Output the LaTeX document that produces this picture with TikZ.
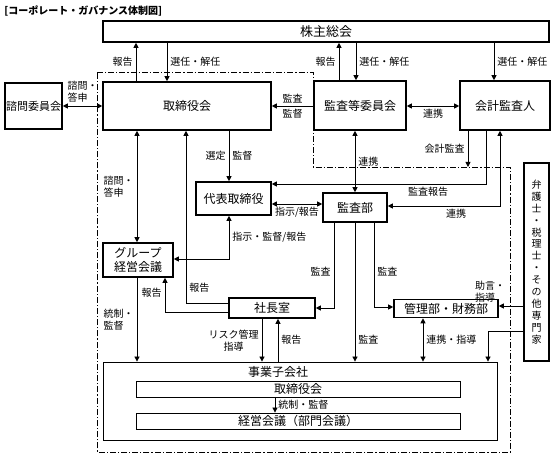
\documentclass[tikz,border=0pt]{standalone}
\usepackage{fontspec}
\setmainfont{Noto Sans CJK JP}
\usetikzlibrary{arrows.meta}

\begin{document}
\begin{tikzpicture}[
    x=1pt, y=-1pt,
    line width=0.8pt,
    >={Triangle[length=5pt, width=5pt]},
    every node/.style={font=\fontsize{12}{14}\selectfont, align=center, inner sep=0pt},
    box/.style={draw, line width=1.6pt},
    subbox/.style={draw, line width=0.8pt},
    lbl/.style={font=\fontsize{10}{12}\selectfont, inner sep=3pt},
    arrow/.style={->},
    both/.style={<->},
    frame/.style={line width=0.7pt, dash pattern=on 6pt off 2pt on 1.2pt off 2pt}
]
\useasboundingbox (0,0) rectangle (555,457);
\node[anchor=west, font=\bfseries\fontsize{10}{12}\selectfont] (title) at (4,11) {[コーポレート・ガバナンス体制図]};

% frame of the audit committee side
\draw[frame] (97,72) -- (313,72) -- (313,167) -- (510,167) -- (510,452) -- (97,452) -- cycle;

\node[box, minimum width=446pt, minimum height=21pt, font=\fontsize{13}{15}\selectfont] (kabu) at (326,31.5) {株主総会};
\node[box, minimum width=57pt, minimum height=46pt, font=\fontsize{11}{13}\selectfont] (shimon) at (33.5,106) {諮問委員会};
\node[box, minimum width=168pt, minimum height=48pt] (tori) at (187,106) {取締役会};
\node[box, minimum width=92pt, minimum height=49pt] (kansaiin) at (360,105.5) {監査等委員会};
\node[box, minimum width=90pt, minimum height=49pt] (kaikei) at (505,105.5) {会計監査人};
\node[box, minimum width=75pt, minimum height=33pt] (daihyo) at (233.5,198.5) {代表取締役};
\node[box, minimum width=64pt, minimum height=29pt] (kansabu) at (355,207.5) {監査部};
\node[box, minimum width=70pt, minimum height=34pt] (group) at (138,260) {グループ\\経営会議};
\node[box, minimum width=86pt, minimum height=20pt] (shacho) at (272,308) {社長室};
\node[box, minimum width=104pt, minimum height=18pt] (kanri) at (446,308.5) {管理部・財務部};
\node[box, minimum width=25pt, minimum height=198pt, font=\fontsize{10}{11.9}\selectfont] (senmon) at (536.5,262)
    {弁\\護\\士\\・\\税\\理\\士\\・\\そ\\の\\他\\専\\門\\家};
\node[subbox, minimum width=394pt, minimum height=78pt] (jigyo) at (300,401) {};
\node (jigyotitle) at (278,372) {事業子会社};
\node[subbox, minimum width=324pt, minimum height=16pt] (subtori) at (298,389) {取締役会};
\node[subbox, minimum width=324pt, minimum height=16pt] (subkeiei) at (298,421) {経営会議（部門会議）};

% 株主総会
\draw[arrow] (tori.north -| 136,0) -- (kabu.south -| 136,0) node[lbl, midway, left] {報告};
\draw[arrow] (kabu.south -| 167,0) -- (tori.north -| 167,0) node[lbl, midway, right] {選任・解任};
\draw[arrow] (kansaiin.north -| 339,0) -- (kabu.south -| 339,0) node[lbl, midway, left] {報告};
\draw[arrow] (kabu.south -| 356,0) -- (kansaiin.north -| 356,0) node[lbl, midway, right] {選任・解任};
\draw[arrow] (kabu.south -| 494,0) -- (kaikei.north -| 494,0) node[lbl, midway, right] {選任・解任};

% 取締役会 row
\draw[both] (shimon.east |- 0,106) -- (tori.west |- 0,106) node[lbl, midway, above, align=left] {諮問・\\答申};
\draw[arrow] (kansaiin.west |- 0,106) -- (tori.east |- 0,106) node[lbl, midway, above] {監査} node[lbl, midway, below] {監督};
\draw[both] (kansaiin.east |- 0,106) -- (kaikei.west |- 0,106) node[lbl, midway, below] {連携};

% 代表取締役 and 監査部
\draw[arrow] (tori.south -| 229,0) -- (daihyo.north -| 229,0) node[lbl, midway, left] {選定} node[lbl, midway, right] {監督};
\draw[both] (tori.south -| 137,0) -- (group.north -| 137,0) node[lbl, midway, left, align=left] {諮問・\\答申};
\draw[both] (kansaiin.south -| 355,0) -- (kansabu.north -| 355,0) node[lbl, midway, right] {連携};
\coordinate (auditpt) at (468,167);
\draw[arrow] (kaikei.south -| auditpt) -- (auditpt) node[lbl, midway, left] {会計監査};
\draw[arrow] (kaikei.south -| 486,0) |- (daihyo.east |- 0,184) node[lbl, pos=0.635, below] {監査報告};
\draw[both] (kaikei.south -| 500,0) |- (kansabu.east |- 0,206) node[lbl, pos=0.695, below] {連携};
\draw[both] (daihyo.east |- 0,204) -- (kansabu.west |- 0,204) node[lbl, midway, below] {指示/報告};
\draw[both] (daihyo.south -| 229,0) |- (group.east |- 0,259) node[lbl, pos=0.25, right] {指示・監督/報告};

% 社長室
\draw[arrow] (shacho.west |- 0,303) -| (tori.south -| 186,0) node[lbl, pos=0.543, right] {報告};
\draw[arrow] (shacho.west |- 0,312) -| (group.south -| 165,0) node[lbl, pos=0.785, left] {報告};
\draw[arrow] (group.south -| 137,0) -- (jigyo.north -| 137,0) node[lbl, midway, left, align=left] {統制・\\監督};
\draw[arrow] (shacho.south -| 262,0) -- (jigyo.north -| 262,0) node[lbl, midway, left] {リスク管理\\指導};
\draw[arrow] (jigyo.north -| 278,0) -- (shacho.south -| 278,0) node[lbl, midway, right] {報告};

% 監査部 downwards
\draw[arrow] (kansabu.south -| 334,0) |- (shacho.east |- 0,308) node[lbl, pos=0.285, left] {監査};
\draw[arrow] (kansabu.south -| 355,0) -- (jigyo.north -| 355,0) node[lbl, pos=0.84, right] {監査};
\draw[arrow] (kansabu.south -| 374,0) |- (kanri.west |- 0,307) node[lbl, pos=0.29, right] {監査};
\draw[both] (kanri.south -| 423,0) -- (jigyo.north -| 423,0) node[lbl, midway, right] {連携・指導};

% 専門家
\draw[arrow] (senmon.west |- 0,306) -- (kanri.east |- 0,306) node[lbl, pos=0.6, above left, align=left] {助言・\\指導};
\draw[arrow] (senmon.west |- 0,331) -| (jigyo.north -| 488,0);

% inside 事業子会社
\draw[arrow] (subtori.south -| 275,0) -- (subkeiei.north -| 275,0) node[lbl, midway, right] {統制・監督};
\end{tikzpicture}
\end{document}
